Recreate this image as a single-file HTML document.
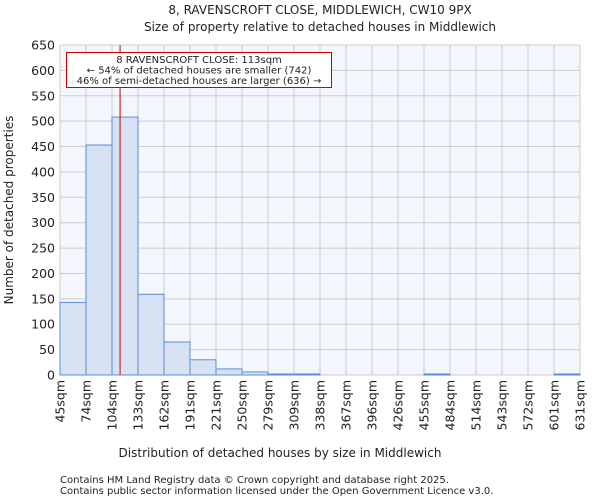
<!DOCTYPE html>
<html><head><meta charset="utf-8"><style>
body{margin:0;background:#fff;font-family:"DejaVu Sans","Liberation Sans",sans-serif}
svg text{font-family:"DejaVu Sans","Liberation Sans",sans-serif;fill:#222}
</style></head><body>
<svg id="c" width="600" height="500">
<text x="320" y="14" font-size="12" text-anchor="middle">8, RAVENSCROFT CLOSE, MIDDLEWICH, CW10 9PX</text>
<text x="320" y="31" font-size="12" text-anchor="middle">Size of property relative to detached houses in Middlewich</text>
<rect x="60" y="45" width="520" height="330" fill="#f3f6fd"/>
<g id="grid"></g><g id="bars"></g><g id="axes"></g>
<text x="280" y="457" font-size="12" text-anchor="middle">Distribution of detached houses by size in Middlewich</text>
<text transform="translate(13,210) rotate(-90)" font-size="12" text-anchor="middle">Number of detached properties</text>
<text x="60" y="483" font-size="10" fill="#444">Contains HM Land Registry data © Crown copyright and database right 2025.</text>
<text x="60" y="494" font-size="10" fill="#444">Contains public sector information licensed under the Open Government Licence v3.0.</text>
</svg>
<script>
const categories=["45sqm","74sqm","104sqm","133sqm","162sqm","191sqm","221sqm","250sqm","279sqm","309sqm","338sqm","367sqm","396sqm","426sqm","455sqm","484sqm","514sqm","543sqm","572sqm","601sqm","631sqm"];
const binEdges=[45,74,104,133,162,191,221,250,279,309,338,367,396,426,455,484,514,543,572,601,631];
const counts=[143,453,508,159,65,30,12,6,2,2,0,0,0,0,2,0,0,0,0,2];
const yTicks=[0,50,100,150,200,250,300,350,400,450,500,550,600,650];
const propertySize=113;
const NS="http://www.w3.org/2000/svg";
const X0=60,X1=580,Y0=375,Y1=45,YMAX=650;
const nb=counts.length;
function xi(i){return X0+i*(X1-X0)/nb;}
function xv(v){let i=0;while(i<binEdges.length-2&&v>binEdges[i+1])i++;return xi(i)+(v-binEdges[i])/(binEdges[i+1]-binEdges[i])*(X1-X0)/nb;}
function y(v){return Y0-v/YMAX*(Y0-Y1);}
function mk(t,a,p){const e=document.createElementNS(NS,t);for(const k in a)e.setAttribute(k,a[k]);p.appendChild(e);return e;}
const g=document.getElementById('grid'),b=document.getElementById('bars'),ax=document.getElementById('axes');
yTicks.forEach(t=>{
 const l=mk('line',{x1:X0,x2:X1,y1:y(t),y2:y(t),stroke:'#cccccc'},g);
 
 
 const tx=mk('text',{x:X0-5,y:y(t)+4.5,'font-size':12.5,'text-anchor':'end'},ax);tx.textContent=t;
 
 
});
categories.forEach((c,i)=>{
 const l=mk('line',{x1:xi(i),x2:xi(i),y1:Y1,y2:Y0,stroke:'#cccccc'},g);
 
 
 const tx=mk('text',{transform:`translate(${xi(i)+4.5},380) rotate(-90)`,'font-size':12.5,'text-anchor':'end'},ax);tx.textContent=c;
 
 
});
counts.forEach((v,i)=>{
 const r=mk('rect',{x:xi(i),y:y(v),width:(X1-X0)/nb,height:Y0-y(v),fill:'#d6e2f3',stroke:'#5b8ed6','stroke-width':1},b);
 
 
});
const ml=mk('line',{x1:xv(propertySize),x2:xv(propertySize),y1:Y1,y2:Y0,stroke:'#cc0000','stroke-width':1},ax);


const box=mk('rect',{x:66.5,y:52.5,width:265,height:35,fill:'#fff',stroke:'#cc0000'},ax);


["8 RAVENSCROFT CLOSE: "+propertySize+"sqm","← 54% of detached houses are smaller (742)","46% of semi-detached houses are larger (636) →"].forEach((s,k)=>{
 const t=mk('text',{x:199,y:63+k*10.5,'font-size':10,'text-anchor':'middle'},ax);t.textContent=s;
 
 
});
</script>
</body></html>
